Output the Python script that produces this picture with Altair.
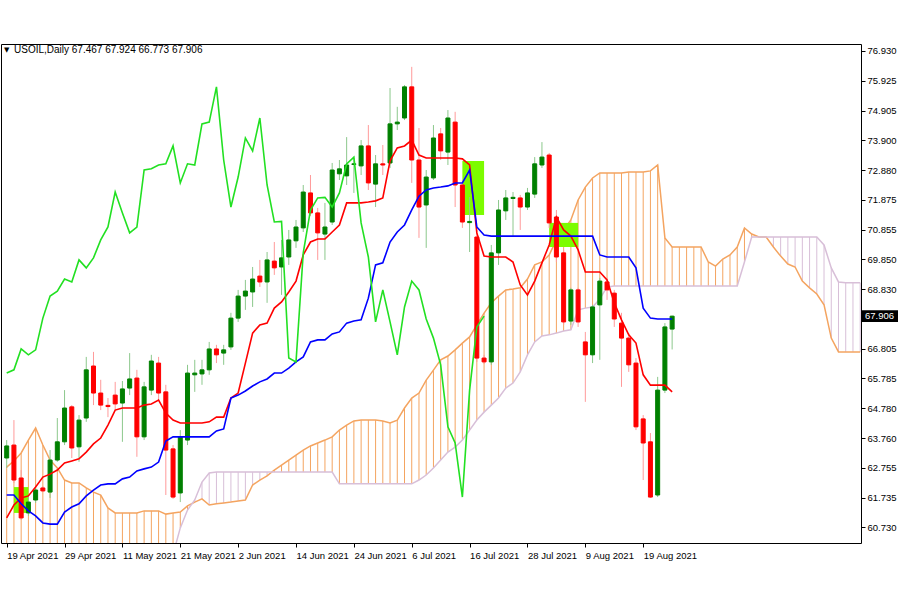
import altair as alt
import pandas as pd

# ---------------- data ----------------
tick_bars = [0, 8, 16, 24, 32, 40, 48, 56, 64, 72, 80, 88]
tick_labels = ["19 Apr 2021", "29 Apr 2021", "11 May 2021", "21 May 2021", "2 Jun 2021",
               "14 Jun 2021", "24 Jun 2021", "6 Jul 2021", "16 Jul 2021", "28 Jul 2021",
               "9 Aug 2021", "19 Aug 2021"]
price_labels = [76.930, 75.925, 74.905, 73.900, 72.880, 71.875, 70.855, 69.850, 68.830,
                66.805, 65.785, 64.780, 63.760, 62.755, 61.735, 60.730]
last_price = 67.906
header = "USOIL,Daily  67.467 67.924 66.773 67.906"

open_ = [63.08, 63.52, 62.40, 61.21, 61.65, 62.06, 61.92, 63.01, 63.63, 64.82,
         63.46, 64.44, 66.21, 65.29, 64.87, 65.22, 64.95, 65.46, 65.80, 63.80,
         65.39, 66.31, 65.33, 63.39, 61.89, 63.69, 65.91, 65.94, 66.08, 66.79,
         66.65, 66.86, 67.84, 68.59, 68.73, 69.27, 69.07, 69.78, 69.58, 69.92,
         70.47, 70.91, 72.10, 71.42, 70.70, 71.11, 72.75, 72.68, 73.07, 73.02,
         73.70, 72.40, 73.09, 73.12, 74.45, 74.65, 75.71, 73.22, 71.69, 72.61,
         74.11, 73.49, 74.51, 72.37, 71.09, 70.60, 66.48, 66.35, 70.06, 71.49,
         71.91, 71.93, 71.62, 72.06, 73.05, 73.39, 71.28, 70.06, 67.74, 68.80,
         67.03, 66.59, 68.29, 69.07, 68.69, 67.67, 67.16, 66.31, 64.41, 63.63,
         61.82, 65.39, 67.467]
high = [63.69, 64.37, 62.67, 61.75, 62.09, 62.13, 63.35, 64.44, 65.39, 64.88,
        64.54, 66.52, 66.69, 65.74, 65.12, 65.67, 65.70, 66.65, 66.08, 65.67,
        66.59, 66.52, 65.57, 63.52, 64.03, 66.25, 66.42, 66.42, 67.03, 66.93,
        66.93, 68.02, 68.80, 69.14, 69.58, 69.82, 70.09, 70.43, 70.50, 70.84,
        71.18, 72.37, 72.71, 71.59, 71.76, 73.12, 73.22, 74.00, 73.29, 73.90,
        74.41, 73.39, 73.73, 75.67, 75.03, 75.77, 76.39, 74.31, 72.88, 74.41,
        74.31, 74.92, 74.86, 72.54, 71.96, 70.84, 66.59, 70.33, 71.86, 72.20,
        72.13, 72.03, 72.27, 73.32, 73.83, 73.46, 71.52, 70.16, 68.87, 68.87,
        67.37, 68.29, 69.21, 69.21, 68.80, 68.02, 67.33, 66.48, 64.54, 63.93,
        65.84, 67.67, 67.924]
low = [62.74, 62.23, 60.97, 61.11, 61.55, 61.92, 61.72, 62.95, 63.52, 63.08,
       62.95, 64.31, 64.88, 64.71, 64.47, 64.71, 63.63, 65.22, 63.12, 63.69,
       65.22, 65.05, 61.82, 61.69, 61.58, 63.52, 65.33, 65.57, 65.91, 66.31,
       66.25, 66.76, 67.71, 68.12, 68.22, 68.90, 68.36, 69.31, 68.63, 69.65,
       70.23, 70.77, 71.32, 69.82, 69.82, 71.01, 72.54, 72.37, 72.10, 72.71,
       72.20, 71.62, 72.71, 72.95, 74.24, 74.58, 72.44, 70.57, 70.23, 72.54,
       73.22, 73.05, 71.62, 70.91, 70.09, 66.35, 66.28, 66.25, 69.65, 71.18,
       70.60, 70.84, 71.52, 71.93, 72.95, 70.91, 69.75, 67.61, 67.61, 67.54,
       64.99, 66.31, 66.42, 68.46, 67.54, 65.50, 66.01, 64.03, 62.33, 61.72,
       61.75, 65.29, 66.773]
close = [63.49, 62.33, 61.04, 61.58, 61.99, 61.96, 63.01, 63.63, 64.78, 63.42,
         64.37, 66.08, 65.29, 64.88, 64.83, 64.92, 65.43, 65.77, 63.80, 65.50,
         66.38, 65.29, 63.35, 61.75, 63.80, 65.97, 65.97, 66.08, 66.79, 66.59,
         66.76, 67.84, 68.59, 68.76, 69.17, 69.07, 69.82, 69.55, 69.89, 70.50,
         70.94, 72.13, 71.42, 70.74, 70.94, 72.88, 72.92, 73.05, 73.09, 73.70,
         72.44, 73.09, 73.05, 74.45, 74.51, 75.71, 73.22, 71.62, 72.64, 73.97,
         73.53, 74.65, 72.37, 71.11, 71.13, 66.48, 66.35, 70.06, 71.52, 71.93,
         71.95, 71.62, 72.10, 73.09, 73.32, 71.08, 69.92, 67.71, 68.80, 67.71,
         66.59, 68.22, 69.10, 68.80, 67.81, 67.16, 66.25, 64.14, 63.59, 61.75,
         65.39, 67.54, 67.906]

tenkan = [61.04, 61.48, 61.72, 61.79, 62.09, 62.43, 62.53, 62.67, 62.91, 62.98,
          63.05, 63.28, 63.56, 63.76, 64.20, 64.71, 64.78, 64.78, 64.78, 64.88,
          64.92, 65.05, 64.61, 64.37, 64.27, 64.27, 64.27, 64.27, 64.31, 64.47,
          64.47, 65.12, 65.29, 66.31, 67.33, 67.61, 67.67, 68.18, 68.39, 68.73,
          69.10, 69.99, 70.43, 70.53, 70.53, 70.77, 71.01, 71.76, 71.76, 71.76,
          71.79, 71.83, 71.93, 73.19, 73.63, 73.70, 73.90, 73.39, 73.29, 73.29,
          73.29, 73.29, 73.29, 73.26, 73.05, 70.74, 69.95, 69.92, 69.92, 69.92,
          69.75, 68.97, 68.63, 69.10, 69.72, 70.33, 71.28, 70.84, 70.63, 70.16,
          69.41, 69.41, 69.41, 69.14, 68.36, 67.78, 67.27, 66.99, 65.91, 65.56,
          65.56, 65.56, 65.33]
kijun = [61.82, 61.82, 61.52, 61.28, 61.11, 60.87, 60.83, 60.83, 61.24, 61.41,
         61.52, 61.79, 61.99, 62.16, 62.20, 62.20, 62.37, 62.43, 62.64, 62.71,
         62.77, 62.94, 63.66, 63.80, 63.80, 63.80, 63.80, 63.80, 63.80, 64.00,
         64.07, 65.12, 65.22, 65.36, 65.53, 65.67, 65.77, 65.97, 65.97, 66.14,
         66.35, 66.52, 67.03, 67.10, 67.10, 67.30, 67.37, 67.67, 67.74, 67.78,
         68.52, 69.65, 69.72, 70.43, 70.77, 71.01, 71.52, 71.99, 72.20, 72.27,
         72.30, 72.34, 72.44, 72.44, 72.88, 70.94, 70.67, 70.63, 70.63, 70.63,
         70.63, 70.63, 70.63, 70.63, 70.63, 70.63, 70.63, 70.63, 70.63, 70.63,
         70.63, 70.63, 69.99, 69.92, 69.92, 69.92, 69.92, 69.55, 68.18, 67.84,
         67.81, 67.81, 67.81]
span_a = [62.77, 62.98, 63.25, 63.69, 64.10, 63.52, 63.01, 62.74, 62.33, 62.23,
          62.23, 62.06, 61.92, 61.82, 61.38, 61.21, 61.21, 61.21, 61.21, 61.28,
          61.28, 61.28, 61.17, 61.21, 61.24, 61.45, 61.58, 61.69, 61.48, 61.52,
          61.55, 61.58, 61.62, 61.65, 62.16, 62.33, 62.47, 62.67, 62.84, 63.01,
          63.18, 63.35, 63.49, 63.59, 63.69, 63.80, 64.03, 64.20, 64.34, 64.37,
          64.37, 64.37, 64.34, 64.27, 64.37, 64.78, 65.12, 65.29, 65.73, 66.07,
          66.42, 66.55, 66.76, 66.99, 67.20, 67.61, 68.01, 68.36, 68.59, 68.80,
          68.83, 68.87, 69.17, 69.65, 69.75, 69.99, 70.50, 70.84, 71.18, 71.86,
          72.30, 72.61, 72.78, 72.78, 72.78, 72.78, 72.81, 72.81, 72.81, 72.85,
          73.05, 70.57, 70.26, 70.26, 70.26, 70.26, 70.26, 69.75, 69.61, 69.85,
          69.99, 70.26, 70.91, 70.70, 70.60, 70.60, 70.26, 69.95, 69.68, 69.58,
          69.10, 68.87, 68.66, 68.29, 67.16, 66.69, 66.69, 66.69, 66.69]
span_b = [59.80, 59.80, 59.80, 59.80, 59.80, 59.80, 59.80, 59.80, 59.80, 59.80,
          59.80, 59.80, 59.80, 59.80, 59.80, 59.80, 59.80, 59.80, 59.80, 59.80,
          59.80, 59.80, 59.80, 59.80, 60.70, 61.31, 61.65, 62.26, 62.57, 62.60,
          62.60, 62.60, 62.60, 62.60, 62.60, 62.60, 62.60, 62.60, 62.60, 62.60,
          62.60, 62.60, 62.60, 62.60, 62.60, 62.60, 62.20, 62.20, 62.20, 62.20,
          62.20, 62.20, 62.20, 62.20, 62.20, 62.20, 62.20, 62.33, 62.50, 62.74,
          63.01, 63.28, 63.45, 63.69, 64.03, 64.37, 64.64, 64.88, 65.12, 65.46,
          65.63, 66.01, 66.59, 67.03, 67.23, 67.27, 67.33, 67.40, 67.44, 68.12,
          68.18, 68.22, 68.49, 68.90, 68.93, 68.93, 68.93, 68.93, 68.93, 68.93,
          68.93, 68.93, 68.93, 68.93, 68.93, 68.93, 68.93, 68.93, 68.93, 68.93,
          68.93, 68.93, 69.75, 70.60, 70.60, 70.60, 70.60, 70.60, 70.60, 70.60,
          70.60, 70.60, 70.60, 70.33, 69.55, 69.07, 69.04, 69.04, 69.04]
chikou_shift = 26

box_x0 = [1, 63, 75]
box_x1 = [3, 66, 79]
box_top = [62.09, 73.19, 71.08]
box_bottom = [61.21, 71.35, 70.26]

# ---------------- tables ----------------
n = len(close)
candles = pd.DataFrame({"i": list(range(n)), "o": open_, "h": high, "l": low, "c": close})
up = candles[candles.c >= candles.o]
down = candles[candles.c < candles.o]
lines = pd.DataFrame({"i": list(range(n)), "tenkan": tenkan, "kijun": kijun})
chikou = pd.DataFrame({"i": list(range(n - chikou_shift)), "v": close[chikou_shift:]})
cloud = pd.DataFrame({"j": list(range(len(span_a))), "a": span_a, "b": span_b})
cloud["kind"] = ["a" if a >= b else "b" for a, b in zip(span_a, span_b)]
boxes = pd.DataFrame({"x0": box_x0, "x1": box_x1, "y0": box_top, "y1": box_bottom})

# ---------------- scales & axes ----------------
FONT = "Liberation Sans"
xs = alt.Scale(domain=[-0.0957, 117.42], nice=False, zero=False)
ys = alt.Scale(domain=[60.187, 77.168], nice=False, zero=False)
label_expr = "[" + ",".join("'%s'" % t for t in tick_labels) + "][indexof([" + \
    ",".join(str(b) for b in tick_bars) + "], datum.value)]"
x_axis = alt.Axis(values=tick_bars, labelExpr=label_expr, labelAlign="left", labelPadding=3,
                  tickSize=4, tickColor="#000000", domain=False, grid=False, title=None,
                  labelFont=FONT, labelFontSize=9.5, labelColor="#000000", labelOverlap=False,
                  labelFlush=False)
y_axis = alt.Axis(orient="right", values=price_labels, format=".3f", tickSize=4,
                  tickColor="#000000", domain=False, grid=False, title=None, labelFont=FONT,
                  labelFontSize=9.5, labelColor="#000000", labelPadding=2, labelOverlap=False,
                  labelFlush=False)


def X(field):
    return alt.X(field, scale=xs, axis=x_axis)


def Y(field):
    return alt.Y(field, scale=ys, axis=y_axis)


SANDY = "#F4A460"
THISTLE = "#D8BFD8"

hatch = alt.Chart(cloud).mark_rule(strokeWidth=1, clip=True).encode(
    x=X("j:Q"), y=Y("a:Q"), y2="b:Q",
    color=alt.Color("kind:N", scale=alt.Scale(domain=["a", "b"], range=[SANDY, THISTLE]),
                    legend=None),
)
line_a = alt.Chart(cloud).mark_line(color=SANDY, strokeWidth=1.5, clip=True).encode(
    x=X("j:Q"), y=Y("a:Q"))
line_b = alt.Chart(cloud).mark_line(color=THISTLE, strokeWidth=1.5, clip=True).encode(
    x=X("j:Q"), y=Y("b:Q"))

box_layer = alt.Chart(boxes).mark_rect(color="#7CFC00").encode(
    x=X("x0:Q"), x2="x1:Q", y=Y("y0:Q"), y2="y1:Q")


def candle_layers(df, col, wick_col):
    wick = alt.Chart(df).mark_rule(color=wick_col, strokeWidth=1).encode(
        x=X("i:Q"), y=Y("l:Q"), y2="h:Q")
    body = alt.Chart(df).mark_bar(color=col, stroke=col, strokeWidth=1, size=4).encode(
        x=X("i:Q"), y=Y("o:Q"), y2="c:Q")
    return [wick, body]


up_layers = candle_layers(up, "#008000", "#8cc88c")
down_layers = candle_layers(down, "#FF0000", "#ff9a9a")

tenkan_l = alt.Chart(lines).mark_line(color="#FF0000", strokeWidth=1.6).encode(
    x=X("i:Q"), y=Y("tenkan:Q"))
kijun_l = alt.Chart(lines).mark_line(color="#0000FF", strokeWidth=1.6).encode(
    x=X("i:Q"), y=Y("kijun:Q"))
chikou_l = alt.Chart(chikou).mark_line(color="#22E022", strokeWidth=1.6).encode(
    x=X("i:Q"), y=Y("v:Q"))

head_tri = alt.Chart(pd.DataFrame({"t": ["▼"]})).mark_text(
    align="left", baseline="middle", fontSize=7, font="DejaVu Sans", color="#000000").encode(
    text="t:N", x=alt.value(3), y=alt.value(6))
head_txt = alt.Chart(pd.DataFrame({"t": [header]})).mark_text(
    align="left", baseline="middle", fontSize=10, font=FONT, color="#000000").encode(
    text="t:N", x=alt.value(13), y=alt.value(6))

tag = pd.DataFrame({"v": [last_price]})
tag_rect = alt.Chart(tag).transform_calculate(
    top="datum.v + 0.2", bot="datum.v - 0.2").mark_rect(color="#000000").encode(
    x=alt.value(861), x2=alt.value(897), y=Y("top:Q"), y2="bot:Q")
tag_txt = alt.Chart(tag).mark_text(
    align="left", baseline="middle", fontSize=9.5, font=FONT, color="#FFFFFF").encode(
    text=alt.Text("v:Q", format=".3f"), x=alt.value(864), y=Y("v:Q"))

chart = alt.layer(
    hatch, line_a, line_b, box_layer, *up_layers, *down_layers,
    tenkan_l, kijun_l, chikou_l, head_tri, head_txt, tag_rect, tag_txt
).properties(
    width=860, height=499,
    autosize=alt.AutoSizeParams(type="none"),
    padding={"left": 1, "top": 44, "right": 39, "bottom": 57},
    background="#FFFFFF",
).configure_view(stroke="#000000", strokeWidth=1)

chart.save("out.html", embed_options={"renderer": "svg", "actions": False})
